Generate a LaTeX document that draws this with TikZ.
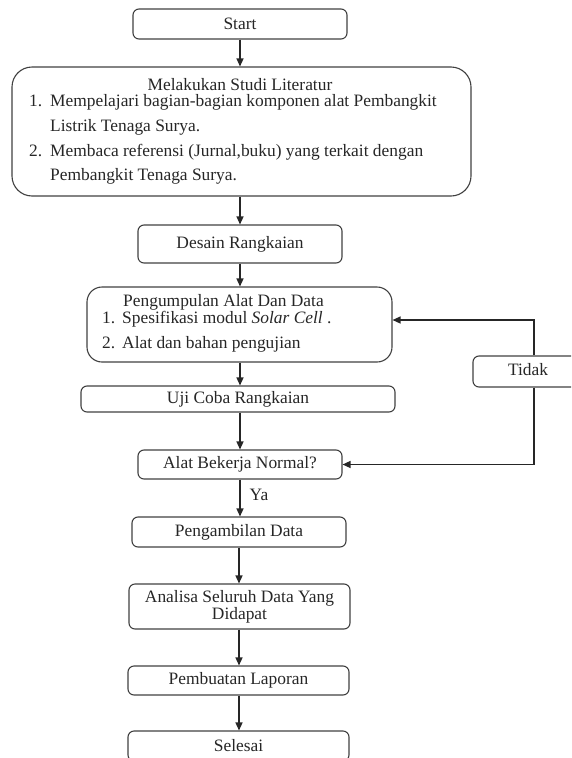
\documentclass[tikz,border=0pt]{standalone}
\usepackage{fontspec}
\setmainfont{Liberation Serif}
\usetikzlibrary{arrows.meta}
\begin{document}
\begin{tikzpicture}[x=1pt,y=-1pt,
  every node/.style={font=\fontsize{17.4}{20}\selectfont, text=black!85},
  box/.style={draw=black!75, line width=1.1pt, rounded corners=6pt, inner sep=0pt},
  txt/.style={inner sep=0pt, text height=12pt, text depth=4pt},
  arr/.style={draw=black!85, line width=1.3pt, -{Triangle[length=8pt,width=7pt]}}]
\useasboundingbox (0,0) rectangle (571,758);
\clip (0,0) rectangle (571,758);
\node[box, minimum width=214pt, minimum height=30pt] (start) at (240,24) {Start};
\node[box, rounded corners=20pt, minimum width=459pt, minimum height=129pt] (studi) at (241.5,131.5) {};
\node[txt] (studiT) at (240,86) {Melakukan Studi Literatur};
\node[txt, anchor=west] (s1n) at (29,102) {1.};
\node[txt, anchor=west] (s1) at (50,102) {Mempelajari bagian-bagian komponen alat Pembangkit};
\node[txt, anchor=west] (s1b) at (50,127) {Listrik Tenaga Surya.};
\node[txt, anchor=west] (s2n) at (29,152) {2.};
\node[txt, anchor=west] (s2) at (50,152) {Membaca referensi (Jurnal,buku) yang terkait dengan};
\node[txt, anchor=west] (s2b) at (50,176) {Pembangkit Tenaga Surya.};
\node[box, minimum width=204pt, minimum height=38pt] (desain) at (240,244) {Desain Rangkaian};
\node[box, rounded corners=15pt, minimum width=305pt, minimum height=75pt] (kumpul) at (239.5,324.5) {};
\node[txt] (kumpulT) at (223.5,302) {Pengumpulan Alat Dan Data};
\node[txt, anchor=west] (k1n) at (102,319) {1.};
\node[txt, anchor=west] (k1) at (122,319) {Spesifikasi modul \textit{Solar Cell} .};
\node[txt, anchor=west] (k2n) at (102,344) {2.};
\node[txt, anchor=west] (k2) at (122,344) {Alat dan bahan pengujian};
\node[box, minimum width=314pt, minimum height=26pt] (uji) at (238,399) {Uji Coba Rangkaian};
\node[box, minimum width=204pt, minimum height=29pt] (alat) at (240,464.5) {Alat Bekerja Normal?};
\node[box, minimum width=122pt, minimum height=31pt] (tidak) at (534,371.5) {};
\node[txt] (tidakT) at (528,371) {Tidak};
\node[txt] (ya) at (259,496) {Ya};
\node[box, minimum width=214pt, minimum height=30pt] (ambil) at (239,532) {Pengambilan Data};
\node[box, minimum width=221pt, minimum height=45pt, align=center, font=\fontsize{17.4}{17}\selectfont] (analisa) at (239.5,606.5) {Analisa Seluruh Data Yang\\Didapat};
\node[box, minimum width=221pt, minimum height=29pt] (lapor) at (238.5,680.5) {Pembuatan Laporan};
\node[box, minimum width=221pt, minimum height=30pt] (selesai) at (238.5,746) {Selesai};
\draw[arr] (start.south) -- (start.south |- studi.north);
\draw[arr] (studi.south -| desain) -- (desain.north);
\draw[arr] (desain.south) -- (kumpul.north -| desain);
\draw[arr] (kumpul.south -| desain) -- (uji.north -| desain);
\draw[arr] (uji.south -| desain) -- (alat.north);
\draw[arr] (alat.south) -- (ambil.north -| alat);
\draw[arr] (ambil.south) -- (analisa.north -| ambil);
\draw[arr] (analisa.south -| ambil) -- (lapor.north -| ambil);
\draw[arr] (lapor.south -| ambil) -- (selesai.north -| ambil);
\draw[arr] (tidak.north) |- ([yshift=4.5pt]kumpul.east);
\draw[arr] (tidak.south) |- (alat.east);
\end{tikzpicture}
\end{document}
